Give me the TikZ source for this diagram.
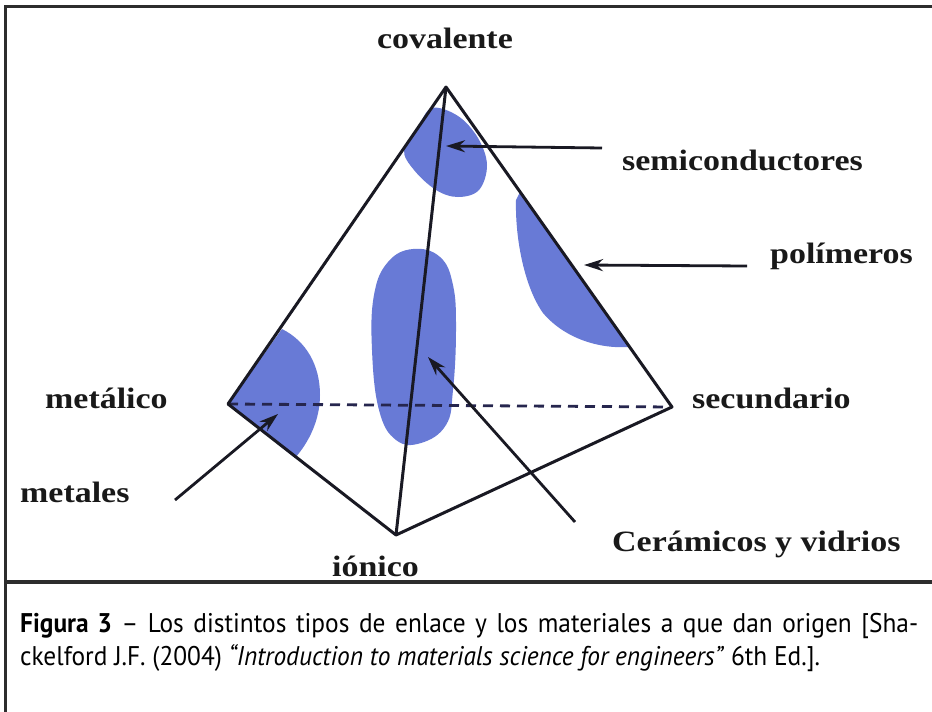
\documentclass[tikz,border=0pt]{standalone}
\usepackage{fontspec}
\newfontfamily\labfont[FakeStretch=1.15]{Liberation Serif}
\newfontfamily\capfont[FakeStretch=0.94]{PT Sans}
\usetikzlibrary{arrows.meta}
\definecolor{blob}{RGB}{104,122,214}
\definecolor{edgec}{RGB}{25,25,35}
\definecolor{dashc}{RGB}{38,38,78}
\definecolor{framec}{RGB}{45,45,45}
\begin{document}
\begin{tikzpicture}[x=1pt,y=-1pt,
  lab/.style={font=\labfont\bfseries\fontsize{29.5}{32}\selectfont, inner sep=0pt, text=black!90},
  edgeline/.style={line width=3pt, draw=edgec, line join=round},
  ptr/.style={line width=2.8pt, draw=edgec, -{Stealth[length=19pt,width=12pt]}},
  blobfill/.style={fill=blob, draw=none},
  framel/.style={line width=3pt, draw=framec},
  capt/.style={font=\capfont\fontsize{27}{33}\selectfont, inner sep=0pt, anchor=base west}]
\useasboundingbox (0,0) rectangle (932,712);
\fill[white] (0,0) rectangle (932,712);
% frame
\draw[framel] (932,6) -- (5,6) -- (5,712);
\draw[line width=4.5pt, draw=framec] (5,582) -- (932,582);
% vertices
\coordinate (A) at (446,87);
\coordinate (L) at (228,404);
\coordinate (R) at (672,407);
\coordinate (B) at (396,535);
% blobs
\fill[blobfill] plot[smooth cycle, tension=0.6] coordinates {(404,150) (418,127) (432,108) (458,116) (478,138) (487,165) (479,190) (458,197) (436,190) (414,170)};
\fill[blobfill] (520,192) -- (629,347) .. controls (600,349) and (565,339) .. (543,313) .. controls (525,288) and (515,240) .. (516,200) -- cycle;
\fill[blobfill] plot[smooth cycle, tension=0.7] coordinates {(413,249) (440,257) (453,285) (456,330) (453,390) (446,425) (421,443) (396,440) (379,410) (372,350) (374,295) (388,262)};
\fill[blobfill] (L) -- (282,329) .. controls (306,341) and (320,365) .. (320,395) .. controls (320,420) and (309,442) .. (295,458) -- cycle;
% edges
\draw[line width=2.8pt, draw=dashc, dash pattern=on 10pt off 7pt] (L) -- (R);
\draw[edgeline] (L) -- (A) -- (R) -- (B) -- cycle;
\draw[edgeline] (A) -- (B);
% labels
\node[lab, anchor=base] (cov) at (445,48) {covalente};
\node[lab, anchor=base west] (semi) at (622,170) {semiconductores};
\node[lab, anchor=base west] (poli) at (770,263) {polímeros};
\node[lab, anchor=base west] (meta) at (45,408) {metálico};
\node[lab, anchor=base west] (secu) at (692,408) {secundario};
\node[lab, anchor=base west] (metl) at (20,502) {metales};
\node[lab, anchor=base west] (cera) at (612,551) {Cerámicos y vidrios};
\node[lab, anchor=base west] (ioni) at (332,576) {iónico};
% arrow ends
\coordinate (semiS) at (602,148);
\coordinate (semiT) at (446,146);
\coordinate (poliS) at (747,266);
\coordinate (poliT) at (584,265);
\coordinate (metlS) at (175,500);
\coordinate (metlT) at (278,414);
\coordinate (ceraS) at (575,522);
\coordinate (ceraT) at (428,357);
\draw[ptr] (semiS) -- (semiT);
\draw[ptr] (poliS) -- (poliT);
\draw[ptr] (metlS) -- (metlT);
\draw[ptr] (ceraS) -- (ceraT);
% caption
\node[capt] (cap1) at (20,632) {\makebox[898pt][s]{\textbf{Figura 3} – Los distintos tipos de enlace y los materiales a que dan origen [Sha-}};
\node[capt] (cap2) at (20,665) {ckelford J.F. (2004) \textit{“Introduction to materials science for engineers”} 6th Ed.].};
\end{tikzpicture}
\end{document}
